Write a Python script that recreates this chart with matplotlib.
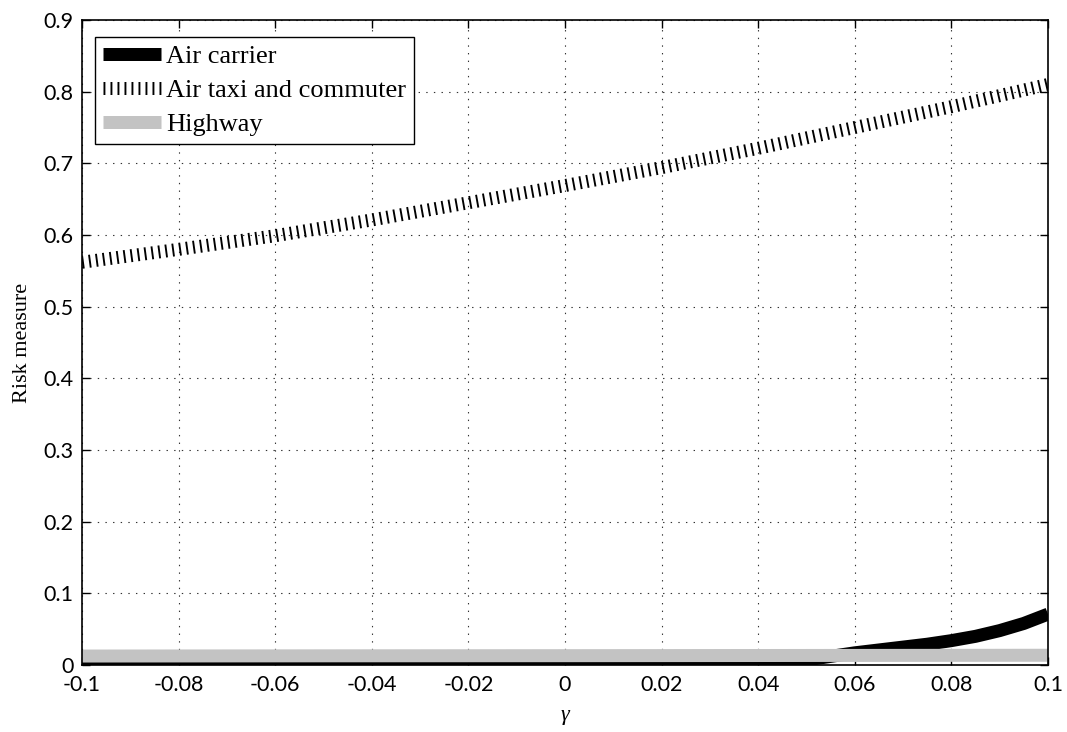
import numpy as np
import matplotlib
matplotlib.use("Agg")
import matplotlib.pyplot as plt

plt.rcParams['lines.scale_dashes'] = False

# ---- data ----
gamma_taxi = [-0.1, -0.08, -0.06, -0.04, -0.02, 0.0, 0.02, 0.04, 0.06, 0.08, 0.1]
air_taxi = [0.562, 0.580, 0.599, 0.621, 0.645, 0.669, 0.694, 0.721, 0.750, 0.779, 0.810]

gamma_carrier = [-0.1, -0.08, -0.06, -0.04, -0.033, -0.02, 0.0, 0.02, 0.04, 0.045, 0.05, 0.055,
                 0.06, 0.065, 0.07, 0.075, 0.08, 0.085, 0.09, 0.095, 0.1]
air_carrier = [0.0, 0.0, 0.0, 0.0, 0.001, 0.001, 0.0015, 0.002, 0.003, 0.004, 0.007, 0.012,
               0.017, 0.021, 0.025, 0.029, 0.034, 0.040, 0.048, 0.058, 0.071]

gamma_highway = [-0.1, -0.05, 0.0, 0.05, 0.1]
highway = [0.0125, 0.0128, 0.013, 0.0133, 0.0136]

labels = ["Air carrier", "Air taxi and commuter", "Highway"]
xticks = [-0.1, -0.08, -0.06, -0.04, -0.02, 0, 0.02, 0.04, 0.06, 0.08, 0.1]
xticklabels = ["-0.1", "-0.08", "-0.06", "-0.04", "-0.02", "0", "0.02", "0.04", "0.06", "0.08", "0.1"]
yticks = [0, 0.1, 0.2, 0.3, 0.4, 0.5, 0.6, 0.7, 0.8, 0.9]
yticklabels = ["0", "0.1", "0.2", "0.3", "0.4", "0.5", "0.6", "0.7", "0.8", "0.9"]

DPI = 100
px = 72.0 / DPI  # points per pixel

fig = plt.figure(figsize=(10.67, 7.32), dpi=DPI)
ax = fig.add_axes([82 / 1067, 1 - 665 / 732, 966 / 1067, 645 / 732])

l1, = ax.plot(gamma_carrier, air_carrier, color='black', lw=13 * px,
              solid_capstyle='butt', label=labels[0], zorder=3)
l2, = ax.plot(gamma_taxi, air_taxi, color='black', lw=13 * px,
              dashes=(1.9 * px, 5.1 * px), dash_capstyle='butt', label=labels[1], zorder=3)
l3, = ax.plot(gamma_highway, highway, color='#c3c3c3', lw=13 * px,
              solid_capstyle='butt', label=labels[2], zorder=4)

ax.set_xlim(-0.1, 0.1)
ax.set_ylim(0, 0.9)
ax.set_xticks(xticks)
ax.set_xticklabels(xticklabels)
ax.set_yticks(yticks)
ax.set_yticklabels(yticklabels)

tickfont = 'Lato'
for t in ax.get_xticklabels() + ax.get_yticklabels():
    t.set_fontfamily(tickfont)
    t.set_fontsize(15.5)

ax.tick_params(direction='in', length=8 * px, width=1, top=True, right=True,
               pad=6, colors='black')
ax.tick_params(axis='x', pad=7)
ax.grid(True, color='#333333', linestyle=(0, (1, 4.5)), linewidth=0.8, zorder=1)
ax.set_axisbelow(True)
for s in ax.spines.values():
    s.set_linewidth(1.2)
    s.set_zorder(5)

ax.set_xlabel('γ', fontsize=16, family='Liberation Serif', style='italic', labelpad=8)
ax.set_ylabel('Risk measure', fontsize=16, family='Liberation Serif', labelpad=8)

leg = ax.legend(handles=[l1, l2, l3], loc='upper left',
                bbox_to_anchor=(13 / 966, 1 - 17 / 645), borderaxespad=0,
                prop={'family': 'Liberation Serif', 'size': 19},
                frameon=True, fancybox=False, edgecolor='black', framealpha=1,
                handlelength=2.2, handletextpad=0.2, labelspacing=0.4,
                borderpad=0.3)
leg.get_frame().set_linewidth(1.0)
leg.set_zorder(6)

fig.savefig('out.png', dpi=DPI)
